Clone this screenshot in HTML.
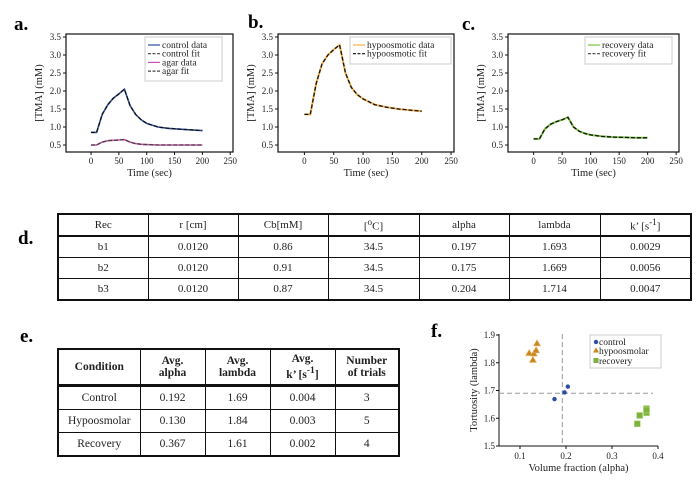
<!DOCTYPE html>
<html><head><meta charset="utf-8"><style>
body{margin:0;width:700px;height:487px;background:#fff;position:relative;overflow:hidden;font-family:"Liberation Serif",serif;}
svg{position:absolute;left:0;top:0;}
.lbl{position:absolute;font-weight:bold;font-size:19px;}
table{position:absolute;border-collapse:collapse;font-family:"Liberation Serif",serif;color:#222;table-layout:fixed;}
td,th{border:1px solid #111;text-align:center;padding:0;}
#td{left:57px;top:213px;width:633px;border:2px solid #111;font-size:11px;}
#td th{height:20px;font-weight:normal;border-bottom:2px solid #111;}
#td td{height:20px;}
#te{left:57px;top:348px;width:342px;border:2px solid #111;font-size:11.5px;}
#te th{height:34px;font-weight:bold;line-height:12px;border-bottom:3px solid #111;}
#te td{height:22px;}
</style></head><body>
<div class="lbl" style="left:14px;top:14px">a.</div>
<div class="lbl" style="left:248px;top:12px">b.</div>
<div class="lbl" style="left:462px;top:14px">c.</div>
<div class="lbl" style="left:18px;top:228px">d.</div>
<div class="lbl" style="left:20px;top:326px">e.</div>
<div class="lbl" style="left:431px;top:321px">f.</div>
<svg id="svg" width="700" height="487"></svg>
<table id="td">
<colgroup><col style="width:90px"><col style="width:90px"><col style="width:90px"><col style="width:91px"><col style="width:90px"><col style="width:91px"><col style="width:91px"></colgroup>
<tr><th>Rec</th><th>r [cm]</th><th>Cb[mM]</th><th>[<sup>o</sup>C]</th><th>alpha</th><th>lambda</th><th>k’ [s<sup>-1</sup>]</th></tr>
<tr><td>b1</td><td>0.0120</td><td>0.86</td><td>34.5</td><td>0.197</td><td>1.693</td><td>0.0029</td></tr>
<tr><td>b2</td><td>0.0120</td><td>0.91</td><td>34.5</td><td>0.175</td><td>1.669</td><td>0.0056</td></tr>
<tr><td>b3</td><td>0.0120</td><td>0.87</td><td>34.5</td><td>0.204</td><td>1.714</td><td>0.0047</td></tr>
</table>
<table id="te">
<colgroup><col style="width:82px"><col style="width:65px"><col style="width:65px"><col style="width:65px"><col style="width:64px"></colgroup>
<tr><th>Condition</th><th>Avg.<br>alpha</th><th>Avg.<br>lambda</th><th>Avg.<br>k’ [s<sup>-1</sup>]</th><th>Number<br>of trials</th></tr>
<tr><td>Control</td><td>0.192</td><td>1.69</td><td>0.004</td><td>3</td></tr>
<tr><td>Hypoosmolar</td><td>0.130</td><td>1.84</td><td>0.003</td><td>5</td></tr>
<tr><td>Recovery</td><td>0.367</td><td>1.61</td><td>0.002</td><td>4</td></tr>
</table>
<script>
const times=[0,10,20,30,40,50,60,70,80,90,100,120,140,160,180,200];
const controlVals=[0.85,0.85,1.35,1.62,1.8,1.92,2.05,1.6,1.35,1.2,1.1,1.0,0.96,0.94,0.92,0.9];
const agarVals=[0.5,0.5,0.58,0.62,0.63,0.64,0.65,0.58,0.54,0.52,0.51,0.5,0.5,0.5,0.5,0.5];
const hypoVals=[1.35,1.35,2.2,2.75,3.0,3.15,3.28,2.5,2.1,1.9,1.78,1.62,1.55,1.5,1.47,1.44];
const recoveryVals=[0.67,0.67,0.95,1.08,1.15,1.2,1.27,1.0,0.88,0.82,0.78,0.74,0.72,0.71,0.7,0.7];
const xTicks=[0,50,100,150,200,250];
const yTicks=[0.5,1.0,1.5,2.0,2.5,3.0,3.5];
const ctrlAlpha=[0.197,0.175,0.204];
const ctrlLambda=[1.693,1.669,1.714];
const hypoAlpha=[0.12,0.128,0.13,0.135,0.137];
const hypoLambda=[1.835,1.81,1.833,1.845,1.87];
const recAlpha=[0.355,0.36,0.375,0.375,0.375];
const recLambda=[1.58,1.61,1.62,1.635,1.63];
const fxTicks=[0.1,0.2,0.3,0.4];
const fyTicks=[1.5,1.6,1.7,1.8,1.9];
const avgAlpha=0.192, avgLambda=1.69;

const svg=document.getElementById('svg');
const NS='http://www.w3.org/2000/svg';
function mk(tag,a,parent){const e=document.createElementNS(NS,tag);for(const k in a)e.setAttribute(k,a[k]);(parent||svg).appendChild(e);return e;}
function txt(s,x,y,size,anchor,parent,rot){const t=mk('text',{x:x,y:y,'font-size':size,'text-anchor':anchor||'middle','font-family':'Liberation Serif, serif',fill:'#222'},parent);if(rot)t.setAttribute('transform','rotate(-90 '+x+' '+y+')');t.textContent=s;return t;}

function timePlot(name,L,R,series,legend,lx,lw,lh){
  const T=34,B=152;
  const sx=v=>L+(v+45)/300*(R-L);
  const sy=v=>145-(v-0.5)/3*(145-37);
  const g=mk('g',{});
  
  
  mk('rect',{x:L,y:T,width:R-L,height:B-T,fill:'none',stroke:'#111','stroke-width':1.2},g);
  xTicks.forEach(v=>{const x=sx(v);mk('line',{x1:x,x2:x,y1:B,y2:B+3,stroke:'#111'},g);const t=txt(String(v),x,B+12,9,'middle',g);});
  yTicks.forEach(v=>{const y=sy(v);mk('line',{x1:L-3,x2:L,y1:y,y2:y,stroke:'#111'},g);const t=txt(v.toFixed(1),L-5,y+3,9,'end',g);});
  const xt=txt('Time (sec)',(L+R)/2,B+24,10.5,'middle',g);
  const yt=txt('[TMA] (mM)',L-24,(T+B)/2,10.5,'middle',g,true);
  series.forEach(s=>{
    const d=times.map((t,i)=>(i?'L':'M')+sx(t).toFixed(1)+','+sy(s.vals[i]).toFixed(1)).join(' ');
    const p=mk('path',{d:d,fill:'none',stroke:s.color,'stroke-width':s.w||1.3},g);
    if(s.dash)p.setAttribute('stroke-dasharray',s.dash);
    
    
  });
  const lg=mk('g',{},g);
  
  
  mk('rect',{x:lx,y:T+3,width:lw,height:lh,fill:'#fff',stroke:'#ccc'},lg);
  legend.forEach((e,i)=>{const y=T+11+i*8.7;const l=mk('line',{x1:lx+3,x2:lx+15,y1:y,y2:y,stroke:e.color,'stroke-width':1.2},lg);if(e.dash)l.setAttribute('stroke-dasharray','3,1.5');txt(e.label,lx+17,y+3,9.5,'start',lg);});
}
timePlot('chart-a',66,233,[
  {vals:controlVals,color:'#2c4ea0',name:'control-data-line',w:1.6},
  {vals:controlVals,color:'#111',dash:'4,2',name:'control-fit-line'},
  {vals:agarVals,color:'#d050b0',name:'agar-data-line',w:1.6},
  {vals:agarVals,color:'#444',dash:'4,2',name:'agar-fit-line'}],
  [{label:'control data',color:'#2c4ea0'},{label:'control fit',color:'#444',dash:1},{label:'agar data',color:'#d050b0'},{label:'agar fit',color:'#444',dash:1}],145,77,44);
timePlot('chart-b',278,454,[
  {vals:hypoVals,color:'#f5b04a',name:'hypoosmotic-data-line',w:2},
  {vals:hypoVals,color:'#111',dash:'4,2',name:'hypoosmotic-fit-line'}],
  [{label:'hypoosmotic data',color:'#f5b04a'},{label:'hypoosmotic fit',color:'#111',dash:1}],350,101,27);
timePlot('chart-c',508,679,[
  {vals:recoveryVals,color:'#7cc040',name:'recovery-data-line',w:2},
  {vals:recoveryVals,color:'#111',dash:'4,2',name:'recovery-fit-line'}],
  [{label:'recovery data',color:'#7cc040'},{label:'recovery fit',color:'#444',dash:1}],585,87,27);

(function(){
  const L=499,R=658,T=334,B=446;
  const sx=v=>520+(v-0.1)/0.1*46;
  const sy=v=>446-(v-1.5)/0.1*27.75;
  const g=mk('g',{});
  
  
  mk('line',{x1:L,x2:L,y1:T,y2:B,stroke:'#111'},g);
  mk('line',{x1:L,x2:R,y1:B,y2:B,stroke:'#111'},g);
  fxTicks.forEach(v=>{const x=sx(v);mk('line',{x1:x,x2:x,y1:B,y2:B+3,stroke:'#111'},g);const t=txt(String(v),x,B+13,9,'middle',g);});
  fyTicks.forEach(v=>{const y=sy(v);mk('line',{x1:L-3,x2:L,y1:y,y2:y,stroke:'#111'},g);const t=txt(v.toFixed(1),L-4,y+3,9,'end',g);});
  const xt=txt('Volume fraction (alpha)',(L+R)/2,B+25,10.5,'middle',g);
  const yt=txt('Tortuosity (lambda)',477,(T+B)/2,10.5,'middle',g,true);
  const vl=mk('line',{x1:sx(avgAlpha),x2:sx(avgAlpha),y1:T,y2:B,stroke:'#999','stroke-dasharray':'5,3'},g);
  
  const hl=mk('line',{x1:L,x2:R-5,y1:sy(avgLambda),y2:sy(avgLambda),stroke:'#999','stroke-dasharray':'5,3'},g);
  
  ctrlAlpha.forEach((a,i)=>{const c=mk('circle',{cx:sx(a),cy:sy(ctrlLambda[i]),r:2.2,fill:'#2c4ea0'},g);});
  hypoAlpha.forEach((a,i)=>{const x=sx(a),y=sy(hypoLambda[i]);const p=mk('polygon',{points:`${x},${y-3.5} ${x-3.5},${y+2.5} ${x+3.5},${y+2.5}`,fill:'#c8861f',stroke:'#e8b060','stroke-width':0.6},g);});
  recAlpha.forEach((a,i)=>{const x=sx(a),y=sy(recLambda[i]);const p=mk('rect',{x:x-3,y:y-3,width:6,height:6,fill:'#7cb340',stroke:'#b8dc80','stroke-width':0.6},g);});
  const lg=mk('g',{},g);
  
  
  mk('rect',{x:590,y:335,width:71,height:33,fill:'#fff',stroke:'#ccc'},lg);
  mk('circle',{cx:596,cy:342,r:2.2,fill:'#2c4ea0'},lg);txt('control',599,345,9.5,'start',lg);
  mk('polygon',{points:'596,347.5 593,352.5 599,352.5',fill:'#c8861f'},lg);txt('hypoosmolar',599,354,9.5,'start',lg);
  mk('rect',{x:593.5,y:358,width:5,height:5,fill:'#7cb340'},lg);txt('recovery',599,364,9.5,'start',lg);
})();
</script>
</body></html>
